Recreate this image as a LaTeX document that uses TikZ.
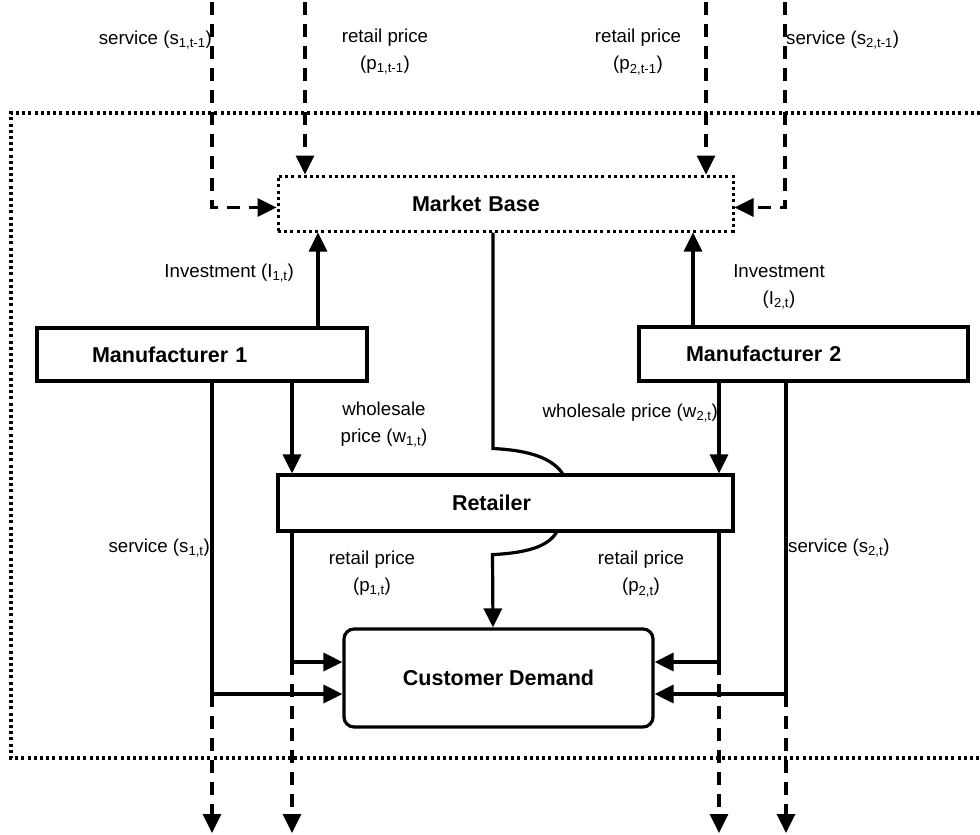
\documentclass[tikz,border=0pt]{standalone}
\usepackage{fontspec}
\setmainfont{Liberation Sans}
\usepackage{tikz}
\usetikzlibrary{arrows.meta, positioning}

\begin{document}
\begin{tikzpicture}[
  x=1pt, y=-1pt,
  font=\fontsize{18.7}{27}\selectfont,
  block/.style={draw, line width=3.2pt, align=left, font=\fontsize{21.5}{24}\selectfont\bfseries},
  market/.style={block, line width=3pt, dash pattern=on 3pt off 3.2pt},
  demand/.style={block, align=center, rounded corners=10pt, minimum width=309pt, minimum height=98pt},
  arrow/.style={-{Triangle[length=19pt, width=18pt]}, line width=3.2pt},
  dasharrow/.style={arrow, dash pattern=on 13pt off 9pt},
  frame/.style={line width=3.2pt, dash pattern=on 3pt off 3.2pt},
  note/.style={inner sep=0pt, align=center}
]
\useasboundingbox (0,0) rectangle (980,835);

% system boundary
\draw[frame] (980,113) -- (11,113) -- (11,758) -- (980,758);

% blocks
\node[market, minimum height=55pt, inner xsep=134pt, text width=187pt] (mb) at (505.5,203.5) {Market Base};
\node[block, minimum height=53pt, inner xsep=55pt, text width=220pt] (m1) at (202,354.5) {Manufacturer 1};
\node[block, minimum height=54pt, inner xsep=47pt, text width=235pt] (m2) at (803.5,354) {Manufacturer 2};
\node[block, minimum height=56pt, inner xsep=174pt, text width=107pt] (rt) at (505.5,503) {Retailer};
\node[demand] (cd) at (498.5,678) {Customer Demand};

% columns, inputs and outputs
\coordinate (i1) at (212,2);
\coordinate (i2) at (305,2);
\coordinate (i3) at (706,2);
\coordinate (i4) at (785,2);
\coordinate (inv1) at (318,0);
\coordinate (inv2) at (693,0);
\coordinate (mc) at (493,0);
\coordinate (j1) at (212,694);
\coordinate (j2) at (292,662);
\coordinate (j3) at (719,662);
\coordinate (j4) at (786,694);
\coordinate (o1) at (212,833);
\coordinate (o2) at (292,833);
\coordinate (o3) at (719,833);
\coordinate (o4) at (786,833);

% labels
\node[note, anchor=east] (ls1p) at (212,40) {service (s\textsubscript{1,t-1})};
\node[note] (lp1p) at (385,52) {retail price\\(p\textsubscript{1,t-1})};
\node[note] (lp2p) at (638,52) {retail price\\(p\textsubscript{2,t-1})};
\node[note, anchor=west] (ls2p) at (786,40) {service (s\textsubscript{2,t-1})};
\node[note, anchor=east] (li1) at (294,273) {Investment (I\textsubscript{1,t})};
\node[note] (li2) at (779,287) {Investment\\(I\textsubscript{2,t})};
\node[note] (lw1) at (384,425) {wholesale\\price (w\textsubscript{1,t})};
\node[note, anchor=east] (lw2) at (718,413) {wholesale price (w\textsubscript{2,t})};
\node[note, anchor=east] (ls1) at (210,548) {service (s\textsubscript{1,t})};
\node[note] (lp1) at (372,574) {retail price\\(p\textsubscript{1,t})};
\node[note] (lp2) at (641,574) {retail price\\(p\textsubscript{2,t})};
\node[note, anchor=west] (ls2) at (788,548) {service (s\textsubscript{2,t})};

% previous period
\draw[dasharrow] (i1) |- ([yshift=-4pt]mb.west);
\draw[dasharrow] (i2) -- (i2 |- mb.north);
\draw[dasharrow] (i3) -- (i3 |- mb.north);
\draw[dasharrow] (i4) |- ([yshift=-4pt]mb.east);

% investment
\draw[arrow] (m1.north -| inv1) -- (mb.south -| inv1);
\draw[arrow] (m2.north -| inv2) -- (mb.south -| inv2);

% wholesale prices
\draw[arrow] (m1.south -| j2) -- (rt.north -| j2);
\draw[arrow] (m2.south -| j3) -- (rt.north -| j3);

% market base to demand, over the retailer
\draw[line width=3.2pt] (mb.south -| mc) -- ++(0,216) .. controls +(40,2) and +(-10,-14) .. ([xshift=57pt]rt.north);
\draw[arrow] ([xshift=51pt]rt.south) .. controls +(-8,12) and +(40,-2) .. ++(-64,22) -- (cd.north -| mc);

% service and retail prices to demand
\draw[arrow] (m1.south -| j1) -- (j1) -- (j1 -| cd.west);
\draw[arrow] (rt.south -| j2) -- (j2) -- (j2 -| cd.west);
\draw[arrow] (rt.south -| j3) -- (j3) -- (j3 -| cd.east);
\draw[arrow] (m2.south -| j4) -- (j4) -- (j4 -| cd.east);

% next period
\draw[dasharrow] (j1) -- (o1);
\draw[dasharrow] (j2) -- (o2);
\draw[dasharrow] (j3) -- (o3);
\draw[dasharrow] (j4) -- (o4);
\end{tikzpicture}
\end{document}
